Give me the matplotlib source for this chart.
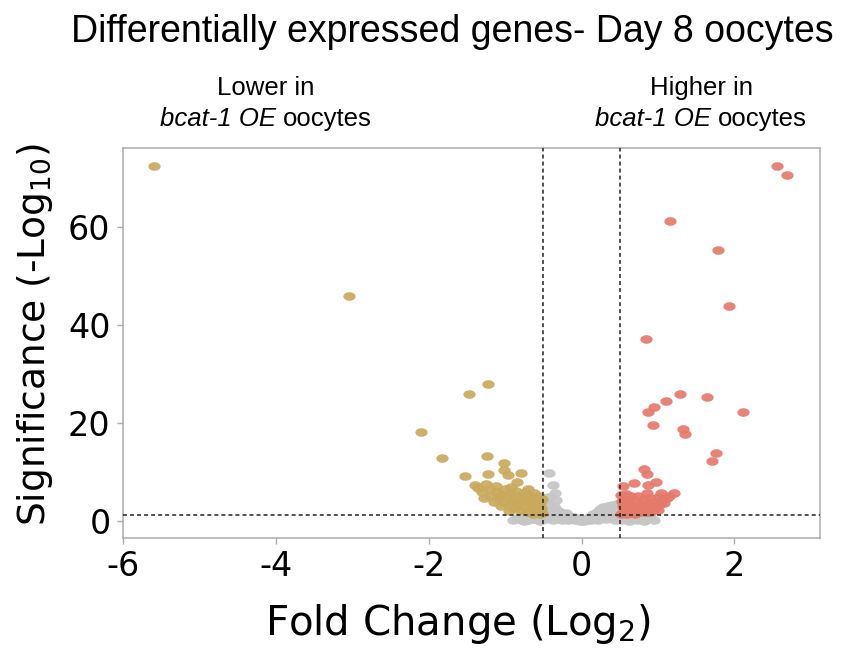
import matplotlib
matplotlib.use('Agg')
import matplotlib.pyplot as plt
from matplotlib.path import Path
import numpy as np

# ---------------- data ----------------
# genes lower in bcat-1 OE oocytes (significant, log2FC < -0.5)
down_fc = [-5.60, -3.04, -1.22, -1.47, -2.10, -1.82, -1.24, -1.02, -1.52, -1.23,
           -1.01, -0.96, -0.79, -0.84, -1.39,
           -1.35, -1.30, -1.27, -1.20, -1.18, -1.12, -1.10, -1.08, -1.05, -1.02,
           -1.00, -0.98, -0.95, -0.93, -0.90, -0.88, -0.86, -0.84, -0.82, -0.80,
           -0.78, -0.76, -0.74, -0.72, -0.70, -0.68, -0.66, -0.64, -0.62, -0.60,
           -0.58, -0.56, -0.55, -0.54, -0.53, -0.52, -1.15, -0.92, -0.70, -0.62,
           -1.25, -0.95, -0.66, -0.58, -0.75, -0.85, -1.05, -0.52, -0.60]
down_sig = [72.4, 45.9, 28.0, 25.9, 18.2, 12.9, 13.3, 11.8, 9.2, 9.6,
            10.4, 9.4, 9.8, 8.0, 7.3,
            6.8, 6.0, 4.7, 6.5, 5.2, 7.2, 6.0, 4.6, 5.4, 3.8,
            6.6, 4.8, 3.2, 5.8, 4.2, 2.6, 6.2, 3.6, 5.0, 2.2,
            4.4, 3.0, 6.0, 1.8, 3.8, 5.2, 2.6, 1.5, 4.4, 3.2,
            2.0, 5.0, 1.4, 3.6, 2.6, 4.4, 3.9, 7.0, 6.5, 5.8,
            7.6, 2.0, 4.0, 3.0, 5.4, 4.0, 3.0, 1.6, 2.4]

# genes not significant
ns_fc = [-0.42, -0.38, -0.35, -0.42, -0.45, -0.33,
         -0.85, -0.80, -0.78, -0.72, -0.70, -0.66, -0.62, -0.58, -0.55, -0.50,
         -0.48, -0.47, -0.46, -0.44, -0.42, -0.40, -0.38, -0.36, -0.35, -0.32,
         -0.30, -0.28, -0.26, -0.24, -0.22, -0.20, -0.18, -0.15, -0.12, -0.10,
         -0.08, -0.05, -0.02, 0.00, 0.03, 0.05, 0.08, 0.10, 0.12, 0.15,
         0.18, 0.20, 0.22, 0.24, 0.26, 0.28, 0.30, 0.32, 0.34, 0.36,
         0.38, 0.40, 0.42, 0.44, 0.46, 0.48, 0.50, 0.52, 0.56, 0.60,
         0.64, 0.68, 0.72, 0.76, 0.80, 0.85, 0.90, 0.95, -0.60, -0.52,
         -0.68, -0.75, -0.90, 0.62, 0.70, 0.82]
ns_sig = [9.8, 7.3, 5.7, 4.8, 3.7, 4.2,
          0.6, 1.0, 0.3, 0.8, 0.2, 1.1, 0.5, 0.9, 0.1, 1.2,
          2.8, 0.5, 1.9, 3.2, 1.0, 2.4, 0.3, 3.0, 1.6, 2.2,
          0.8, 1.8, 0.2, 1.3, 0.6, 1.6, 0.3, 1.0, 0.5, 0.9,
          0.2, 0.5, 0.1, 0.3, 0.1, 0.5, 0.3, 0.9, 0.2, 1.4,
          0.5, 1.9, 0.2, 2.4, 0.9, 2.8, 1.4, 0.4, 3.0, 2.0,
          1.0, 3.2, 2.6, 0.3, 3.4, 1.8, 1.0, 0.3, 0.8, 1.1,
          0.4, 0.9, 0.2, 0.7, 1.0, 0.4, 0.8, 0.3, 1.2, 2.0,
          0.5, 0.1, 0.2, 0.1, 0.5, 0.1]

# genes higher in bcat-1 OE oocytes (significant, log2FC > 0.5)
up_fc = [2.56, 2.69, 1.16, 1.78, 1.93, 0.84, 1.29, 1.64, 2.11, 1.10,
         0.95, 0.87, 0.93, 1.33, 1.36, 1.76, 1.71, 0.82, 0.86, 0.68,
         0.54, 0.98, 0.87, 1.21, 1.04, 0.85, 0.52, 0.56,
         0.52, 0.55, 0.58, 0.60, 0.62, 0.64, 0.66, 0.68, 0.70, 0.72,
         0.74, 0.76, 0.78, 0.80, 0.82, 0.84, 0.86, 0.88, 0.90, 0.92,
         0.94, 0.96, 0.98, 1.00, 1.02, 1.05, 1.08, 1.12, 1.15, 0.58,
         0.65, 0.53, 0.70, 0.54, 0.75, 0.90, 0.62, 1.00]
up_sig = [72.4, 70.6, 61.2, 55.3, 43.9, 37.1, 25.9, 25.3, 22.2, 24.5,
          23.3, 22.2, 19.6, 18.8, 17.7, 13.9, 12.2, 10.6, 9.6, 7.8,
          7.1, 8.0, 7.3, 5.7, 5.7, 5.7, 5.3, 5.1,
          1.5, 2.4, 3.4, 1.4, 4.4, 2.0, 3.0, 1.6, 4.0, 2.4,
          5.0, 1.8, 3.4, 2.6, 4.4, 1.8, 3.2, 2.4, 4.6, 3.0,
          2.2, 3.8, 2.8, 4.8, 3.4, 4.2, 3.6, 4.6, 5.0, 5.6,
          5.2, 4.0, 1.4, 3.0, 3.0, 1.8, 2.6, 2.2]

fc_cutoff = 0.5
sig_cutoff = 1.3
x_ticks = [-6, -4, -2, 0, 2]
y_ticks = [0, 20, 40, 60]

title = "Differentially expressed genes- Day 8 oocytes"
left_note = ("Lower in", "bcat-1 OE", "oocytes")
right_note = ("Higher in", "bcat-1 OE", "oocytes")

# ---------------- style ----------------
W, H = 843, 649
c_down = "#C9AA5C"
c_up = "#E57A6B"
c_ns = "#C6C6C6"
frame_c = "#ABABAB"

fig = plt.figure(figsize=(W / 100, H / 100), dpi=100)
ax = fig.add_axes([123 / W, 1 - 538 / H, (820 - 123) / W, (538 - 148) / H])

t = np.linspace(0, 2 * np.pi, 64)
ell = Path(np.column_stack([np.cos(t), 0.70 * np.sin(t)]), closed=True)
msize = 78

ax.scatter(ns_fc, ns_sig, s=msize, marker=ell, color=c_ns, linewidths=0, alpha=0.95, zorder=2)
ax.scatter(down_fc, down_sig, s=msize, marker=ell, color=c_down, linewidths=0, alpha=0.92, zorder=3)
ax.scatter(up_fc, up_sig, s=msize, marker=ell, color=c_up, linewidths=0, alpha=0.92, zorder=3)

dash = (0, (2.6, 2.0))
ax.axvline(-fc_cutoff, color="#222222", lw=1.1, ls=dash, zorder=4)
ax.axvline(fc_cutoff, color="#222222", lw=1.1, ls=dash, zorder=4)
ax.axhline(sig_cutoff, color="#222222", lw=1.1, ls=dash, zorder=4)

ax.set_xlim(-6.0, 3.12)
ax.set_ylim(-3.47, 76.1)
ax.set_xticks(x_ticks)
ax.set_yticks(y_ticks)
ax.set_xticklabels([str(v) for v in x_ticks], family="DejaVu Sans", fontsize=24)
ax.set_yticklabels([str(v) for v in y_ticks], family="DejaVu Sans", fontsize=24)
ax.tick_params(direction="out", length=4, width=1, color=frame_c, pad=5)
for sp in ax.spines.values():
    sp.set_color(frame_c)
    sp.set_linewidth(1.1)

def fx(px):
    return px / W

def fy(py):
    return 1 - py / H

fig.text(fx(35), fy(335), "Significance (-Log$_{10}$)", rotation=90, ha="center",
         va="center", family="DejaVu Sans", fontsize=27)
fig.text(fx(458), fy(624), "Fold Change (Log$_{2}$)", ha="center", va="center",
         family="DejaVu Sans", fontsize=29)

fig.text(fx(452), fy(32), title, ha="center", va="center",
         family=["Liberation Sans", "DejaVu Sans"], fontsize=27)

note_fam = ["Liberation Sans", "DejaVu Sans"]
note_fs = 18.5

def note(cx, line1, ital, rest):
    fig.text(fx(cx), fy(95), line1, ha="center", va="baseline", family=note_fam, fontsize=note_fs)
    t1 = fig.text(0, fy(126), ital, ha="left", va="baseline", family=note_fam,
                  style="italic", fontsize=note_fs)
    t2 = fig.text(0, fy(126), rest, ha="left", va="baseline", family=note_fam, fontsize=note_fs)
    fig.canvas.draw()
    r = fig.canvas.get_renderer()
    w1 = t1.get_window_extent(r).width
    w2 = t2.get_window_extent(r).width
    gap = note_fs * 100 / 72 * 0.25
    x0 = cx - (w1 + gap + w2) / 2
    t1.set_x(fx(x0))
    t2.set_x(fx(x0 + w1 + gap))

note(266, *left_note)
note(701, *right_note)

fig.savefig("out.png", dpi=100, facecolor="white")
